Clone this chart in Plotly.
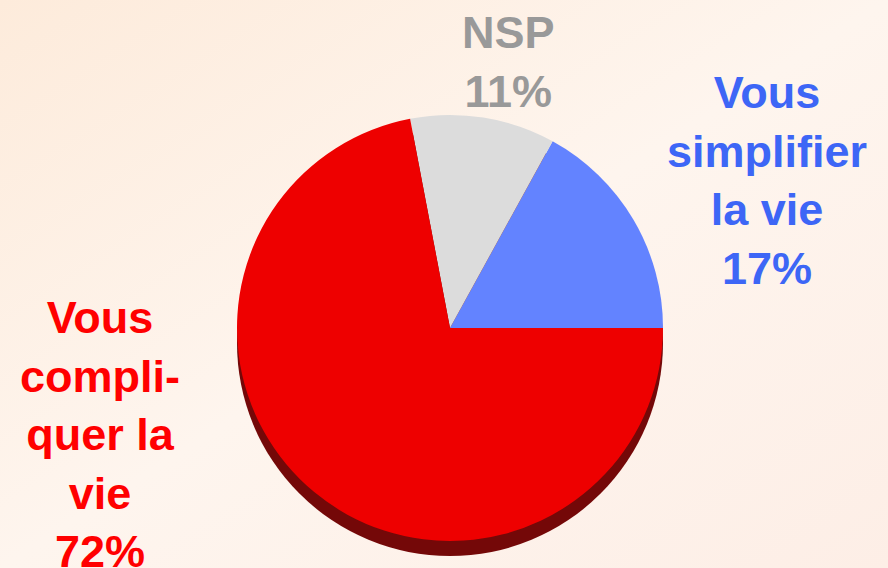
import base64
import plotly.graph_objects as go

# ---- data ----
labels = ["Vous simplifier la vie", "NSP", "Vous compliquer la vie"]
label_lines = [["Vous", "simplifier", "la vie"], ["NSP"], ["Vous", "compli-", "quer la", "vie"]]
values = [17, 11, 72]
slice_colors = ["#6383FF", "#DCDCDC", "#EE0000"]
text_colors = ["#3D66F6", "#999999", "#FF0000"]

W, H = 888, 568

def px(x):
    return x / W

def py(y):
    return 1 - y / H

# background gradient as SVG image
svg = f'''<svg xmlns="http://www.w3.org/2000/svg" width="{W}" height="{H}">
<defs><linearGradient id="g" x1="0" y1="0" x2="1" y2="1">
<stop offset="0" stop-color="#FDEBDB"/>
<stop offset="0.5" stop-color="#FEF5EE"/>
<stop offset="1" stop-color="#FDEEE6"/>
</linearGradient></defs>
<rect width="{W}" height="{H}" fill="url(#g)"/></svg>'''
bg_src = "data:image/svg+xml;base64," + base64.b64encode(svg.encode()).decode()

cx, cy, r, depth = 450, 328, 213, 15

# first slice (blue) starts at 3 o'clock and runs counterclockwise
first_angle = 360 * values[0] / sum(values)
rotation = 90 - first_angle

fig = go.Figure()
# 3D side (depth) of the pie
fig.add_trace(go.Pie(
    values=[sum(values)], labels=["side"], sort=False,
    marker=dict(colors=["#740808"], line=dict(width=0)),
    textinfo="none", hoverinfo="skip", showlegend=False,
    domain=dict(x=[px(cx - r), px(cx + r)], y=[py(cy + depth + r), py(cy + depth - r)]),
))
# top face
fig.add_trace(go.Pie(
    values=values, labels=labels, sort=False, direction="counterclockwise", rotation=rotation,
    marker=dict(colors=slice_colors, line=dict(width=0)),
    textinfo="none", showlegend=False,
    domain=dict(x=[px(cx - r), px(cx + r)], y=[py(cy + r), py(cy - r)]),
))

label_pos = [(767, 180), (508, 62), (100, 434)]
annotations = []
for lines, v, col, (ax, ay) in zip(label_lines, values, text_colors, label_pos):
    annotations.append(dict(
        text="<br>".join(lines + [f"{v}%"]), x=px(ax), y=py(ay), xref="paper", yref="paper",
        xanchor="center", yanchor="middle", showarrow=False, align="center",
        font=dict(family="Liberation Sans, Arial, sans-serif", size=45, color=col, weight="bold"),
    ))

fig.update_layout(
    width=W, height=H, margin=dict(l=0, r=0, t=0, b=0),
    paper_bgcolor="#FDF0E6", plot_bgcolor="rgba(0,0,0,0)",
    annotations=annotations,
    images=[dict(source=bg_src, xref="paper", yref="paper", x=0, y=1, sizex=1, sizey=1,
                 xanchor="left", yanchor="top", sizing="stretch", layer="below")],
)

fig.write_html("out.html", config={"displayModeBar": False},
               post_script="document.body.style.margin='0';")
